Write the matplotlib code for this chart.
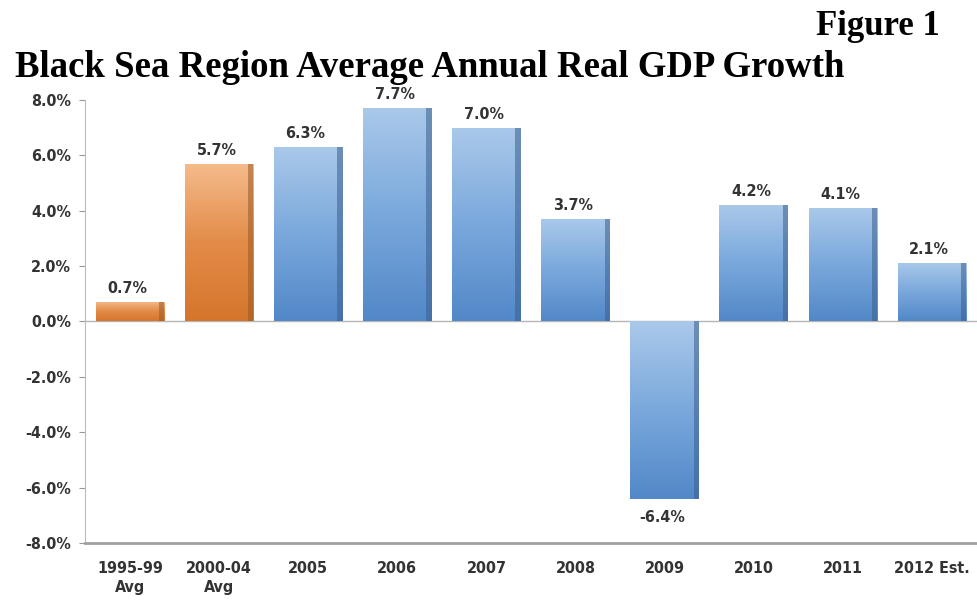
import matplotlib
matplotlib.use("Agg")
import matplotlib.pyplot as plt
import numpy as np
from matplotlib.colors import LinearSegmentedColormap
from matplotlib.ticker import FuncFormatter

categories = ["1995-99\nAvg", "2000-04\nAvg", "2005", "2006", "2007", "2008",
              "2009", "2010", "2011", "2012 Est."]
values = [0.7, 5.7, 6.3, 7.7, 7.0, 3.7, -6.4, 4.2, 4.1, 2.1]
kinds = ["avg", "avg", "yr", "yr", "yr", "yr", "yr", "yr", "yr", "yr"]
yticks = [-8, -6, -4, -2, 0, 2, 4, 6, 8]

fig = plt.figure(figsize=(9.77, 6.02), dpi=100)
ax = fig.add_axes([0.087, 0.098, 0.913, 0.736])

tick_font = ["Liberation Sans Narrow", "DejaVu Sans"]
tkw = dict(family=tick_font, stretch="condensed")

x = np.arange(len(values))
width = 0.77
cmaps = {
    "avg": LinearSegmentedColormap.from_list("o", ["#f5bb8c", "#e38c48", "#d5752c"]),
    "yr": LinearSegmentedColormap.from_list("b", ["#aac9ea", "#7aa8dc", "#5288c8"]),
}
side = {"avg": "#9a5a26", "yr": "#3a5f8e"}
bars = ax.bar(x, values, width=width, color="none", edgecolor="none", zorder=2)
grad = np.linspace(0, 1, 256).reshape(-1, 1)
for b, v, k in zip(bars, values, kinds):
    x0, y0 = b.get_x(), min(0, v)
    h = abs(v)
    im = ax.imshow(grad, cmap=cmaps[k], aspect="auto", origin="upper",
                   extent=[x0, x0 + width, y0, y0 + h], zorder=2)
    im.set_clip_path(b)
    ax.bar(x0 + width - 0.06, v, width=0.06, align="edge", color=side[k],
           alpha=0.55, zorder=3, edgecolor="none")
    lab = f"{v:.1f}%"
    if v >= 0:
        ax.text(b.get_x() + width / 2 - 0.03, v + 0.22, lab, ha="center", va="bottom",
                fontsize=11.5, fontweight="bold", color="#333333", **tkw)
    else:
        ax.text(b.get_x() + width / 2 - 0.03, v - 0.4, lab, ha="center", va="top",
                fontsize=11.5, fontweight="bold", color="#333333", **tkw)

ax.set_xlim(-0.505, 9.505)
ax.set_ylim(-8, 8)
ax.set_yticks(yticks)
ax.yaxis.set_major_formatter(FuncFormatter(lambda v, p: f"{v:.1f}%"))
ax.set_xticks(x)
ax.set_xticklabels(categories, linespacing=1.3)
for t in ax.get_xticklabels() + ax.get_yticklabels():
    t.set_family(tick_font)
    t.set_stretch("condensed")
    t.set_fontweight("bold")
    t.set_fontsize(11.5)
    t.set_color("#333333")
ax.tick_params(axis="x", length=0, pad=13)
ax.tick_params(axis="y", length=4, color="#999999", pad=6)
ax.axhline(0, color="#b5b5b5", lw=1, zorder=1)
for s in ["top", "right"]:
    ax.spines[s].set_visible(False)
ax.spines["left"].set_color("#bbbbbb")
ax.spines["left"].set_linewidth(0.8)
ax.spines["bottom"].set_color("#a0a0a0")
ax.spines["bottom"].set_linewidth(2.0)

fig.text(0.962, 1 - 35 / 602, "Figure 1", ha="right", va="baseline", fontsize=25,
         fontweight="bold", family="Liberation Serif")
fig.text(0.015, 1 - 77 / 602, "Black Sea Region Average Annual Real GDP Growth",
         ha="left", va="baseline", fontsize=26.5, fontweight="bold",
         family="Liberation Serif")

fig.savefig("out.png", dpi=100)
